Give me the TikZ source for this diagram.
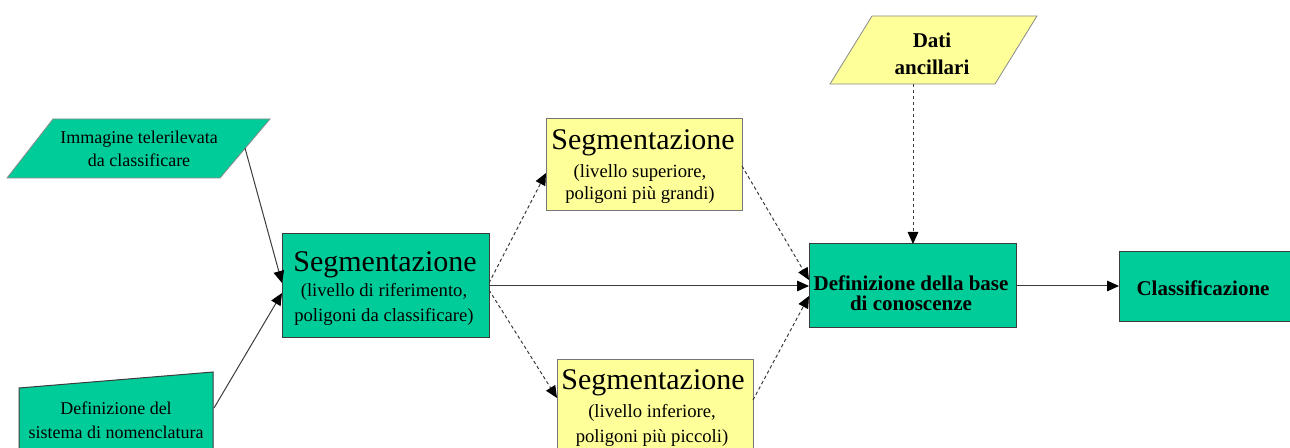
\documentclass[tikz,border=0pt]{standalone}
\usepackage{fontspec}
\setmainfont{Liberation Serif}
\usetikzlibrary{arrows.meta,calc}
\definecolor{gfill}{RGB}{0,204,153}
\definecolor{yfill}{RGB}{255,255,153}
\definecolor{edgec}{RGB}{60,60,60}
\begin{document}
\begin{tikzpicture}[x=0.75pt,y=-0.75pt,
  gbox/.style={draw=edgec,fill=gfill,line width=0.75pt,inner sep=0pt,outer sep=0pt},
  ybox/.style={draw=edgec!70,fill=yfill,line width=0.75pt,inner sep=0pt,outer sep=0pt},
  txt/.style={inner sep=0pt,outer sep=0pt,text=black},
  big/.style={font=\fontsize{22.5}{24}\selectfont},
  small/.style={font=\fontsize{14}{16}\selectfont},
  para/.style={font=\fontsize{13.5}{15}\selectfont},
  bold/.style={font=\fontsize{15.75}{17}\selectfont\bfseries},
  conn/.style={draw=edgec,line width=0.75pt,-{Triangle[length=9pt,width=8pt,color=black]}},
  dconn/.style={conn,dash pattern=on 2.5pt off 2pt}]
\useasboundingbox (0,0) rectangle (1290,448);
\clip (0,0) rectangle (1290,448);
% input parallelogram: image
\path[fill=gfill,draw=edgec!60,line width=0.6pt] (53,119) -- (270,119) -- (220,178) -- (7,178) -- cycle;
\node[txt,para] (imgA) at (139,139) {Immagine telerilevata};
\node[txt,para] (imgB) at (139,160) {da classificare};
\coordinate (imgR) at (245,148);
% manual input: nomenclature
\path[fill=gfill,draw=edgec,line width=0.75pt] (19,388) -- (213,372) -- (213,460) -- (19,460) -- cycle;
\node[txt,para] (nomA) at (116,408) {Definizione del};
\node[txt,para] (nomB) at (116,432) {sistema di nomenclatura};
\coordinate (nomR) at (214,408);
% data parallelogram
\path[fill=yfill,draw=edgec!60,line width=0.6pt] (872,16) -- (1037,16) -- (995,84) -- (830,84) -- cycle;
\node[txt,bold] (datA) at (932,40) {Dati};
\node[txt,bold] (datB) at (932,67) {ancillari};
\coordinate (datS) at (913,84);
% boxes
\node[gbox,minimum width=155.25pt,minimum height=78pt] (seg) at (385.5,286) {};
\node[txt,big] (segT) at (385,265) {Segmentazione};
\node[txt,small] (segA) at (384,292) {(livello di riferimento,};
\node[txt,small] (segB) at (384,317) {poligoni da classificare)};
\node[ybox,minimum width=147pt,minimum height=69pt] (up) at (644,165) {};
\node[txt,big] (upT) at (643,143) {Segmentazione};
\node[txt,small] (upA) at (640,173) {(livello superiore,};
\node[txt,small] (upB) at (640,195) {poligoni più grandi)};
\node[ybox,minimum width=147pt,minimum height=69pt] (lo) at (655,406) {};
\node[txt,big] (loT) at (653,383) {Segmentazione};
\node[txt,small] (loA) at (652,413) {(livello inferiore,};
\node[txt,small] (loB) at (652,438) {poligoni più piccoli)};
\node[gbox,minimum width=155.25pt,minimum height=63pt] (base) at (912.5,286) {};
\node[txt,bold] (baseA) at (911,283) {Definizione della base};
\node[txt,bold] (baseB) at (911,303) {di conoscenze};
\node[gbox,minimum width=129.75pt,minimum height=52.5pt] (cls) at (1205.5,287) {};
\node[txt,bold] (clsT) at (1203,288) {Classificazione};
% connectors
\draw[conn] (imgR) -- ($(seg.west)+(0,-3)$);
\draw[conn] (nomR) -- ($(seg.west)+(0,7)$);
\draw[conn] (seg.east) -- (base.west);
\draw[dconn] ($(seg.east)+(0,-3)$) -- ($(up.west)+(0,8)$);
\draw[dconn] ($(seg.east)+(0,4)$) -- ($(lo.west)+(0,-8)$);
\draw[dconn] ($(up.east)+(0,1)$) -- ($(base.west)+(0,-6)$);
\draw[dconn] ($(lo.east)+(0,-6)$) -- ($(base.west)+(0,10)$);
\draw[dconn] (datS) -- (datS |- base.north);
\draw[conn] (base.east) -- (base.east -| cls.west);
\end{tikzpicture}
\end{document}
